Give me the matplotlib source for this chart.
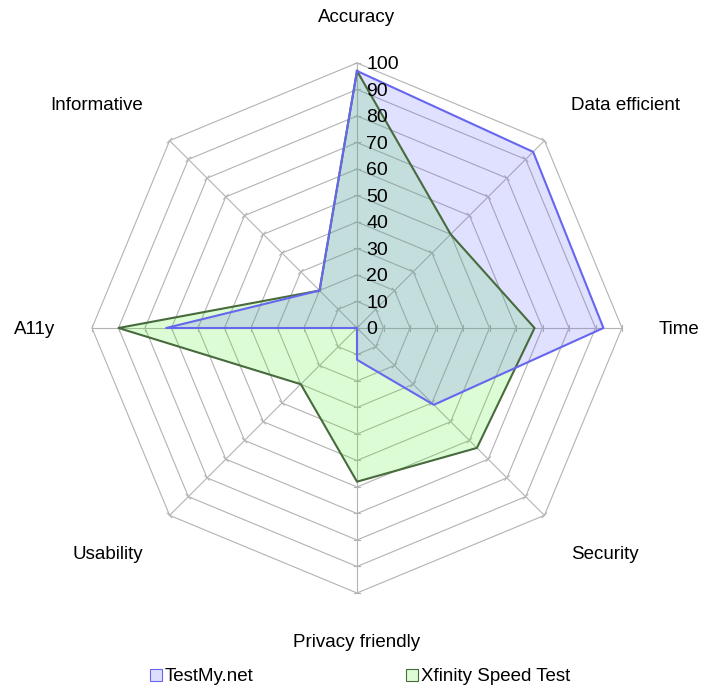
import numpy as np
import matplotlib
matplotlib.use("Agg")
import matplotlib.pyplot as plt
from matplotlib.patches import Patch

############################################
# DATA
############################################

categories = ["Accuracy", "Data efficient", "Time", "Security",
              "Privacy friendly", "Usability", "A11y", "Informative"]

testmy = [97, 94, 93, 41, 12, 0, 72, 20]
xfinity = [97, 50, 67, 64, 58, 30, 90, 20]

series_names = ["TestMy.net", "Xfinity Speed Test"]

levels = list(range(0, 101, 10))

############################################
# STYLE
############################################

plt.rcParams['font.family'] = ['Liberation Sans', 'DejaVu Sans']

GRID = "#b3b3b3"
BLUE_LINE = "#6666ee"
BLUE_FILL = (0.4, 0.4, 1.0, 0.2)
GREEN_LINE = "#476b3c"
GREEN_FILL = (0.31, 0.94, 0.16, 0.2)

SCALE = 2.65       # px per data unit
CX, CY = 357, 328  # centre in px from top-left
W, H = 720, 695

############################################
# PLOT
############################################

n = len(categories)
ang = np.arange(n) * 2 * np.pi / n   # clockwise from top


def xy(r, a):
    r = np.asarray(r, dtype=float)
    return r * np.sin(a), r * np.cos(a)


fig = plt.figure(figsize=(W / 100, H / 100), dpi=100)
ax = fig.add_axes([0, 0, 1, 1])
ax.set_xlim(-CX / SCALE, (W - CX) / SCALE)
ax.set_ylim(-(H - CY) / SCALE, CY / SCALE)
ax.set_aspect("equal")
ax.axis("off")

# polygon grid
for lv in levels[1:]:
    gx, gy = xy([lv] * (n + 1), np.append(ang, ang[0]))
    ax.plot(gx, gy, color=GRID, lw=0.8, zorder=1)

# spokes + small tick marks
for a in ang:
    sx, sy = xy([0, 100], np.array([a, a]))
    ax.plot(sx, sy, color=GRID, lw=0.8, zorder=1)
    px, py = np.cos(a), -np.sin(a)
    for lv in levels:
        tx, ty = xy(lv, a)
        ax.plot([tx - 1.2 * px, tx + 1.2 * px], [ty - 1.2 * py, ty + 1.2 * py],
                color=GRID, lw=0.8, zorder=1)

# series
for vals, line, fill in [(xfinity, GREEN_LINE, GREEN_FILL),
                         (testmy, BLUE_LINE, BLUE_FILL)]:
    vx, vy = xy(vals + [vals[0]], np.append(ang, ang[0]))
    ax.fill(vx, vy, color=fill, lw=0, zorder=2)
for vals, line, fill in [(xfinity, GREEN_LINE, GREEN_FILL),
                         (testmy, BLUE_LINE, BLUE_FILL)]:
    vx, vy = xy(vals + [vals[0]], np.append(ang, ang[0]))
    ax.plot(vx, vy, color=line, lw=1.5, zorder=3)

# radial labels
for lv in levels:
    ax.text(3.4, lv, str(lv), ha="left", va="center_baseline",
            fontsize=14, zorder=4)

# category labels
for cat, a in zip(categories, ang):
    s, c = np.sin(a), np.cos(a)
    lx = 114 * s
    ly = 114 * c + (0 if abs(c) < 0.1 else 4 * np.sign(c))
    ha = "center" if abs(s) < 0.1 else ("left" if s > 0 else "right")
    ax.text(lx, ly, cat, ha=ha, va="center_baseline", fontsize=13.5)

# legend
handles = [Patch(facecolor=(0.87, 0.87, 0.99), edgecolor=BLUE_LINE, lw=0.8),
           Patch(facecolor=(0.87, 0.99, 0.84), edgecolor=GREEN_LINE, lw=0.8)]
fig.legend(handles, series_names, loc="center", bbox_to_anchor=(0.5, 0.026),
           ncol=2, frameon=False, fontsize=13.5, handlelength=0.65,
           handleheight=0.65, handletextpad=0.15, columnspacing=8.1)

plt.savefig("out.png", dpi=100)
plt.close()
